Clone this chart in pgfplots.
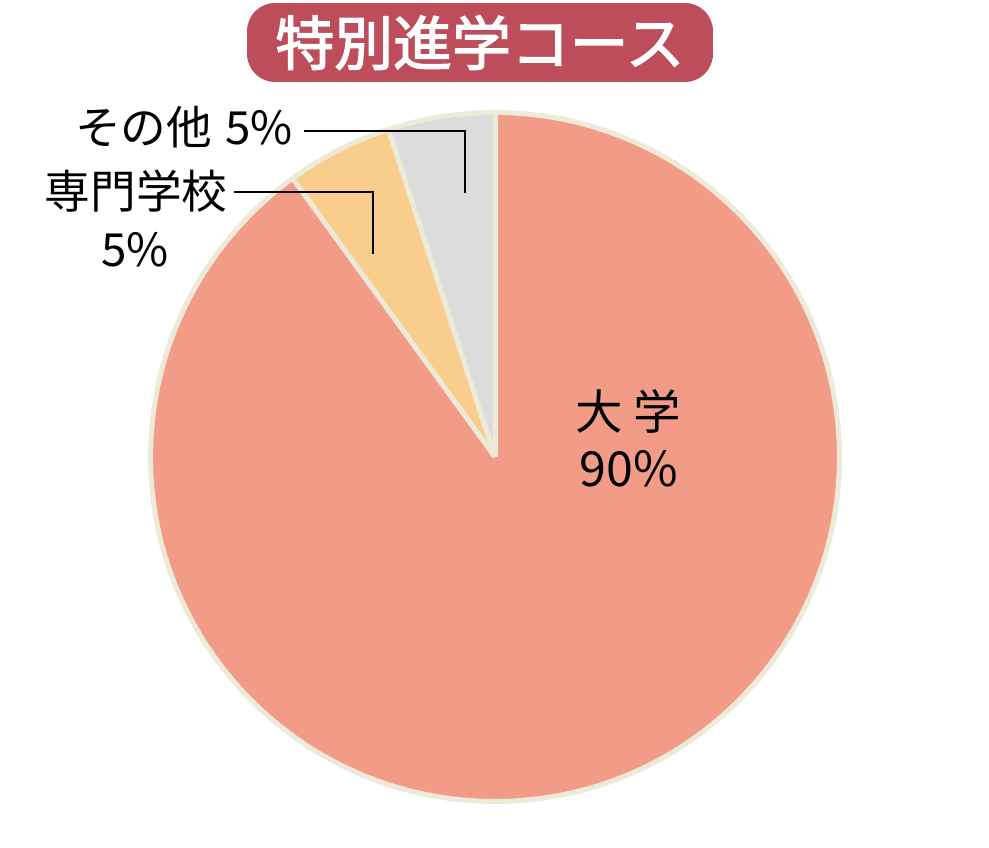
\documentclass[border=0pt]{standalone}
\usepackage{pgfplots}
\pgfplotsset{compat=1.18}
\usepackage{fontspec}
\setmainfont{Noto Sans CJK JP}
\newfontfamily\titlefont[FakeBold=2.2]{Noto Sans CJK JP}

\definecolor{daigaku}{HTML}{F29C88}
\definecolor{senmon}{HTML}{F9CD8C}
\definecolor{sonota}{HTML}{DCDCDC}
\definecolor{rim}{HTML}{EEEAD9}
\definecolor{titlered}{HTML}{BE4D5C}

% one slice: start angle, end angle, colour (centre 495,457 px; r = 344.5 px)
\newcommand{\slice}[3]{%
  \fill[#3] (axis cs:495,457) -- ++(#1:6.89cm)
    arc[start angle=#1, end angle=#2, radius=6.89cm] -- cycle;}
\newcommand{\rimline}[1]{%
  \draw[rim, line width=0.1cm] (axis cs:495,457) -- ++(#1:6.89cm);}

\begin{document}
\begin{tikzpicture}
\begin{axis}[
  x=0.02cm, y=0.02cm,
  xmin=0, xmax=989, ymin=0, ymax=827,
  y dir=reverse,
  hide axis, clip=false,
]
\path (axis cs:0,0) rectangle (axis cs:989,827);

% shares in percent: その他 5, 専門学校 5, 大学 90 (from the top, counter-clockwise)
\slice{90}{90+3.6*5}{sonota}
\slice{90+3.6*5}{90+3.6*10}{senmon}
\slice{90+3.6*10}{90+3.6*100}{daigaku}
\rimline{90}
\rimline{108}
\rimline{126}
\draw[rim, line width=0.1cm] (axis cs:495,457) circle[radius=6.89cm];

% title
\node[fill=titlered, rounded corners=0.56cm, minimum width=9.32cm,
      minimum height=1.58cm, inner sep=0pt,
      text=white, font=\fontsize{33.5}{38}\selectfont\titlefont]
  at (axis cs:480,42.5) {特別進学コース};

% leader lines
\draw[black, line width=0.04cm] (axis cs:304,131) -| (axis cs:465,193);
\draw[black, line width=0.04cm] (axis cs:234,192) -| (axis cs:373,254);

% labels
\node[anchor=base east, inner sep=0pt, font=\fontsize{26}{30}\selectfont]
  at (axis cs:293,145) {その他\hspace{0.06em} 5\%};
\node[anchor=base, inner sep=0pt, font=\fontsize{26}{30}\selectfont]
  at (axis cs:136,209) {専門学校};
\node[anchor=base, inner sep=0pt, font=\fontsize{26}{30}\selectfont]
  at (axis cs:135,266) {5\%};
\node[anchor=base, inner sep=0pt, font=\fontsize{27}{30}\selectfont]
  at (axis cs:628,429) {大 学};
\node[anchor=base, inner sep=0pt, font=\fontsize{27.5}{30}\selectfont]
  at (axis cs:629,486) {90\%};
\end{axis}
\end{tikzpicture}
\end{document}
